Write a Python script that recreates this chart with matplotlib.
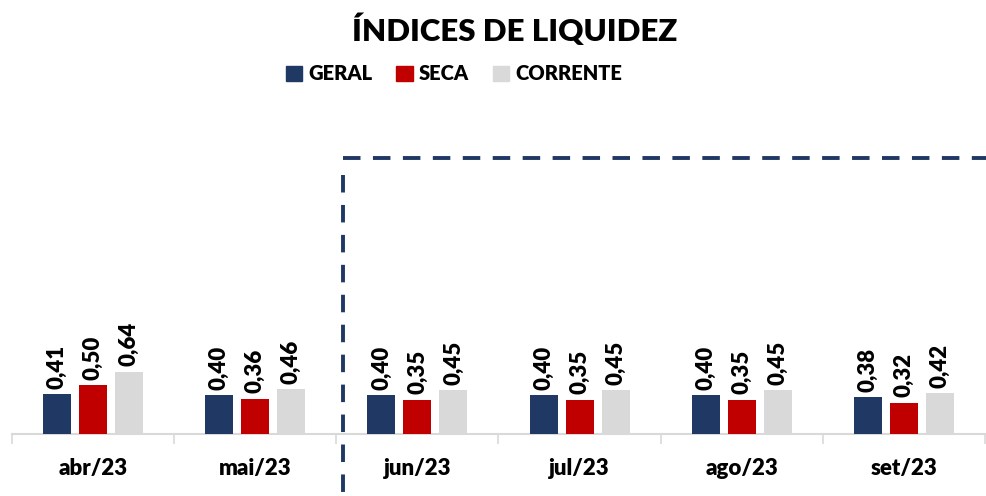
import numpy as np
import matplotlib
matplotlib.use("Agg")
import matplotlib.pyplot as plt
from matplotlib.lines import Line2D
from matplotlib.patches import Patch

plt.rcParams['font.family'] = ['Lato', 'DejaVu Sans']
plt.rcParams['font.weight'] = 'heavy'

meses = ["abr/23", "mai/23", "jun/23", "jul/23", "ago/23", "set/23"]
geral = [0.41, 0.40, 0.40, 0.40, 0.40, 0.38]
seca = [0.50, 0.36, 0.35, 0.35, 0.35, 0.32]
corrente = [0.64, 0.46, 0.45, 0.45, 0.45, 0.42]
series = ["GERAL", "SECA", "CORRENTE"]
cores = ["#203864", "#C00000", "#D9D9D9"]

W, H = 987, 496
fig = plt.figure(figsize=(W / 100, H / 100), dpi=100)
ax = fig.add_axes([12 / W, 1 - 434 / H, (985 - 12) / W, (434 - 100) / H])

x = np.arange(len(meses))
largura = 0.173
passo = 0.222
for i, (nome, vals, cor) in enumerate(zip(series, [geral, seca, corrente], cores)):
    xs = x + (i - 1) * passo
    ax.bar(xs, vals, width=largura, color=cor, label=nome, zorder=3)
    for xi, v in zip(xs, vals):
        ax.annotate(f"{v:.2f}".replace(".", ","), (xi, v), xytext=(0, 4),
                    textcoords="offset points", rotation=90, ha="center", va="bottom",
                    fontsize=16, fontweight="heavy", color="black")

ax.set_xlim(-0.5, len(meses) - 0.5)
ax.set_ylim(0, 3.44)
ax.set_yticks([])
for s in ["top", "right", "left"]:
    ax.spines[s].set_visible(False)
ax.spines["bottom"].set_color("#D9D9D9")
ax.spines["bottom"].set_linewidth(1.5)

ax.set_xticks(np.arange(-0.5, len(meses)), minor=False)
ax.set_xticklabels([])
ax.tick_params(axis="x", which="major", length=7, width=1.2, color="#D9D9D9", direction="out")
ax.set_xticks(x, minor=True)
ax.set_xticklabels(meses, minor=True, fontsize=16, fontweight="heavy")
ax.tick_params(axis="x", which="minor", length=0, pad=17)

fig.text(0.521, 1 - 30 / H, "ÍNDICES DE LIQUIDEZ", ha="center", va="center",
         fontsize=22.5, fontweight="heavy")

handles = [Patch(color=c) for c in cores]
leg = fig.legend(handles, series, loc="center", bbox_to_anchor=(454 / W, 1 - 74 / H),
                 ncol=3, frameon=False, handlelength=0.8, handleheight=0.8,
                 handletextpad=0.3, columnspacing=1.2,
                 prop={"size": 14.5, "weight": "heavy"})

# caixa tracejada
estilo = dict(color="#203864", linewidth=2.8, linestyle=(0, (4.5, 3.2)))
fig.add_artist(Line2D([343 / W, 343 / W], [1 - 175 / H, 0], transform=fig.transFigure, **estilo))
fig.add_artist(Line2D([343 / W, 1.0], [1 - 158 / H, 1 - 158 / H], transform=fig.transFigure, **estilo))

fig.savefig("out.png", dpi=100)
